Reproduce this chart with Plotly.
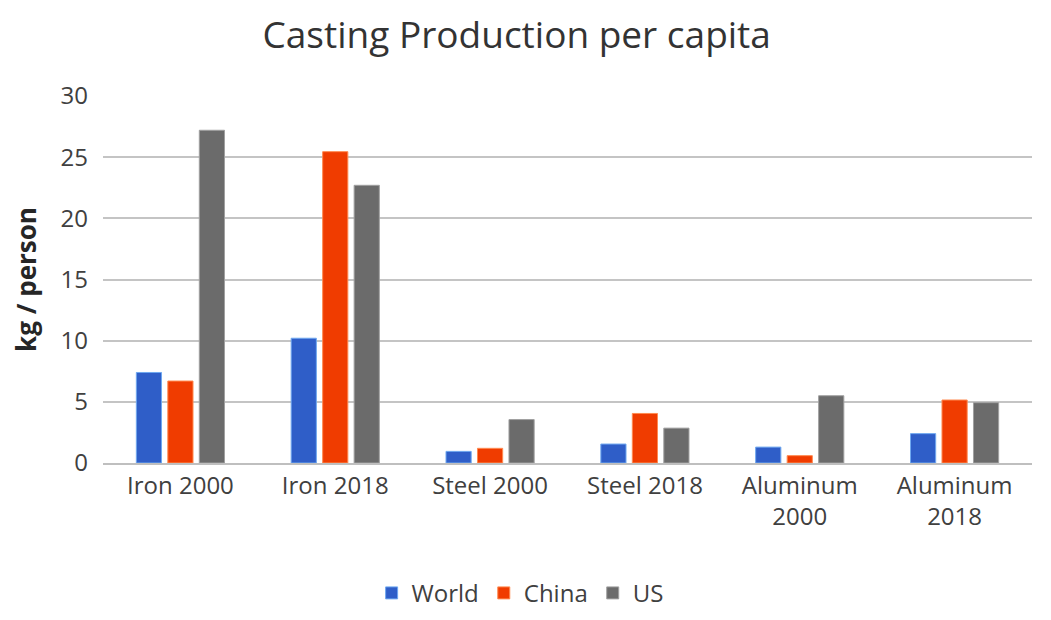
import plotly.graph_objects as go

categories = ["Iron 2000", "Iron 2018", "Steel 2000", "Steel 2018", "Aluminum<br>2000", "Aluminum<br>2018"]
world = [7.4, 10.2, 0.95, 1.55, 1.3, 2.4]
china = [6.7, 25.45, 1.2, 4.05, 0.6, 5.15]
us = [27.2, 22.7, 3.55, 2.85, 5.5, 4.93]
y_ticks = [0, 5, 10, 15, 20, 25, 30]

FONT = "Open Sans"
fig = go.Figure()
for name, vals, col, edge in [("World", world, "#2F5EC8", "#6FA8F0"),
                              ("China", china, "#F03C00", "#FF8A50"),
                              ("US", us, "#6B6B6B", "#A0A0A0")]:
    fig.add_trace(go.Bar(x=categories, y=vals, name=name,
                         marker=dict(color=col, line=dict(color=edge, width=1))))

fig.update_layout(
    width=1051, height=620,
    paper_bgcolor="white", plot_bgcolor="white",
    barmode="group", bargap=0.39, bargroupgap=0.2,
    margin=dict(l=95, r=27, t=88, b=156),
    title=dict(text="Casting Production per capita", x=0.484, xanchor="center",
               y=0.956, yanchor="middle",
               font=dict(family=FONT, size=37, color="#333333")),
    font=dict(family=FONT, size=24, color="#404040"),
    xaxis=dict(showline=True, linecolor="#BFBFBF", linewidth=2, ticks="", automargin=False,
               tickfont=dict(size=24, color="#404040")),
    yaxis=dict(range=[0, 30], tickvals=y_ticks, showgrid=True, gridcolor="#C4C4C4",
               gridwidth=2, zeroline=False, ticks="", ticklabelstandoff=14, automargin=False,
               title=dict(text="kg / person", font=dict(size=26, color="#262626", weight="bold"),
                          standoff=18),
               tickfont=dict(size=24, color="#404040")),
    legend=dict(orientation="h", x=0.449, xanchor="center", y=-0.355, yanchor="middle",
                font=dict(size=24, color="#404040"), itemwidth=30, traceorder="normal"),
)
fig.write_html("out.html")
